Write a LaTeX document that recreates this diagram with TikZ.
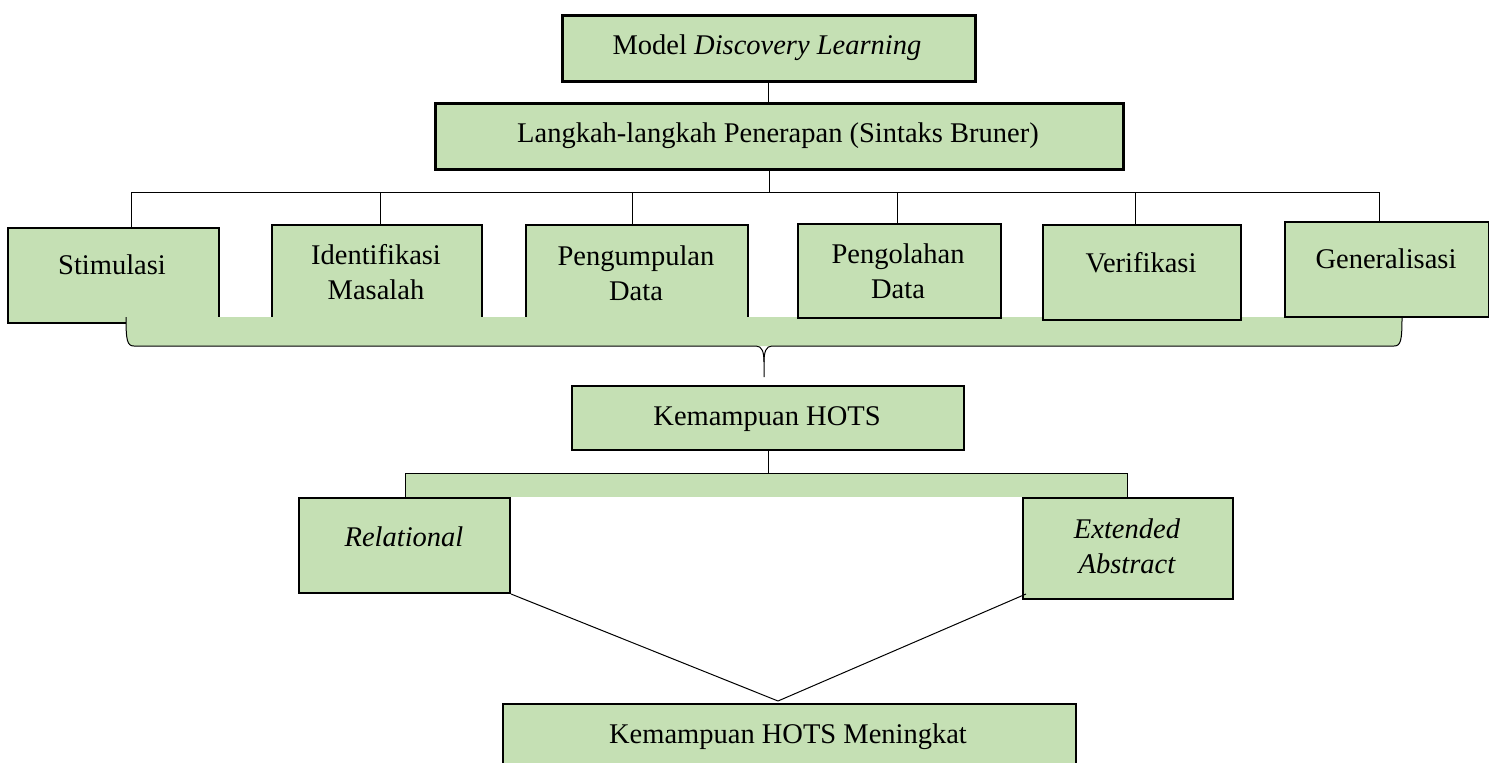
\documentclass[tikz,border=0pt]{standalone}
\usepackage{fontspec}
\setmainfont{Liberation Serif}
\usetikzlibrary{calc}
\definecolor{boxgreen}{HTML}{C5E0B4}
\begin{document}
\begin{tikzpicture}[x=1pt,y=-1pt,
  box/.style={draw=black, fill=boxgreen, line width=2pt, rectangle, inner sep=0pt, anchor=north west},
  lbl/.style={font=\fontsize{28.5}{35}\selectfont, align=center, inner sep=0pt},
  conn/.style={draw=black, line width=1pt}]
\useasboundingbox (0,0) rectangle (1489,763);

% top boxes
\node[box, line width=2.5pt, minimum width=413pt, minimum height=66pt] (model) at (561,14) {};
\node[box, line width=3pt, minimum width=688pt, minimum height=66pt] (langkah) at (434,102) {};
\node[lbl] (modelT) at (767,48) {Model \textit{Discovery Learning}};
\node[lbl] (langkahT) at (778,136) {Langkah-langkah Penerapan (Sintaks Bruner)};

\draw[conn] (model.south) -- (model.south |- langkah.north);
\coordinate (bus) at (769,192);
\draw[conn] (langkah.south -| bus) -- (bus);
\coordinate (d1) at (131,192);
\coordinate (d2) at (380,192);
\coordinate (d3) at (632,192);
\coordinate (d4) at (897,192);
\coordinate (d5) at (1135,192);
\coordinate (d6) at (1379,192);
\draw[conn] (d1) -- (d6);

% step boxes (first three under the band)
\node[box, minimum width=211pt, minimum height=95pt] (stim) at (7,227) {};
\node[box, minimum width=210pt, minimum height=98pt] (iden) at (271,224) {};
\node[box, minimum width=222pt, minimum height=98pt] (peng) at (525,224) {};

% band with brace
\fill[boxgreen] (126,317) -- (1402,317) .. controls (1402,340) and (1401,346) .. (1394,346)
  -- (134,346) .. controls (127,346) and (126,340) .. (126,317) -- cycle;
\coordinate (tip) at (764,362);
\coordinate (tipend) at (764,377);
\draw[conn] (126,317) .. controls (126,340) and (127,346) .. (134,346) -- (756,346)
  .. controls (762,346) and (764,352) .. (tip) -- (tipend);
\draw[conn] (tip) .. controls (764,352) and (766,346) .. (772,346) -- (1394,346)
  .. controls (1401,346) and (1402,340) .. (1402,317);

\node[box, minimum width=203pt, minimum height=94pt] (olah) at (797,223) {};
\node[box, minimum width=198pt, minimum height=95pt] (veri) at (1042,224) {};
\node[box, minimum width=204pt, minimum height=95pt] (gene) at (1284,221) {};

\foreach \d/\b in {d1/stim, d2/iden, d3/peng, d4/olah, d5/veri, d6/gene}
  \draw[conn] (\d) -- (\d |- \b.north);

\node[lbl] (stimT) at (112,265) {Stimulasi};
\node[lbl] (idenT) at (376,272) {Identifikasi\\Masalah};
\node[lbl] (pengT) at (636,273) {Pengumpulan\\Data};
\node[lbl] (olahT) at (898,271) {Pengolahan\\Data};
\node[lbl] (veriT) at (1141,263) {Verifikasi};
\node[lbl] (geneT) at (1386,259) {Generalisasi};

% HOTS
\node[box, minimum width=392pt, minimum height=64pt] (hots) at (571,385) {};
\node[lbl] (hotsT) at (767,419) {Kemampuan HOTS};

\fill[boxgreen] (405,473) rectangle (1127,497);
\draw[conn] (405,497) -- (405,473) -- (1127,473) -- (1127,497);
\draw[conn] (hots.south) -- (hots.south |- 0,473);

\node[box, minimum width=211pt, minimum height=95pt] (rel) at (298,497) {};
\node[box, minimum width=210pt, minimum height=101pt] (ext) at (1022,497) {};
\node[lbl, font=\fontsize{28.5}{35}\selectfont\itshape] (relT) at (404,537) {Relational};
\node[lbl, font=\fontsize{28.5}{35}\selectfont\itshape] (extT) at (1127,546) {Extended\\Abstract};

\node[box, minimum width=573pt, minimum height=100pt] (final) at (502,703) {};
\node[lbl] (finalT) at (788,737) {Kemampuan HOTS Meningkat};

\coordinate (meet) at (778,701);
\draw[conn] (rel.south east) -- (meet);
\draw[conn] ($(ext.south west)+(4,-6)$) -- (meet);
\end{tikzpicture}
\end{document}
